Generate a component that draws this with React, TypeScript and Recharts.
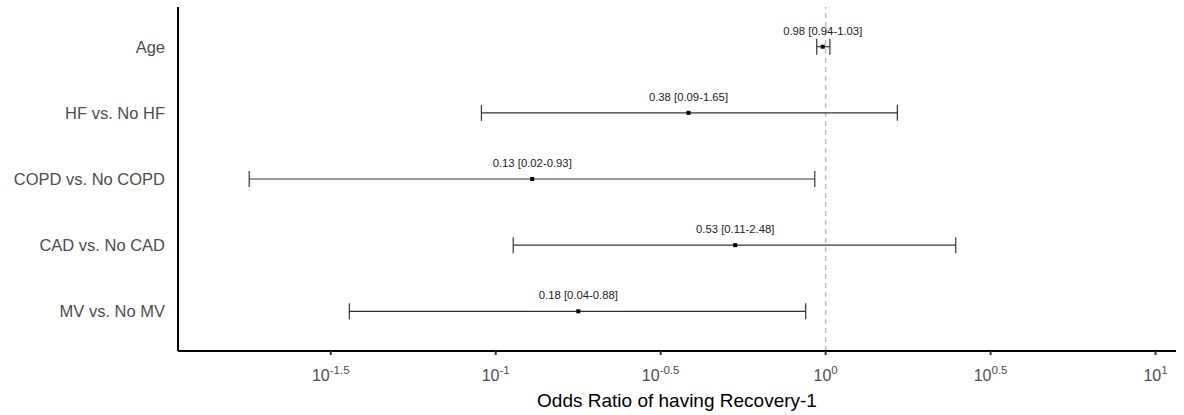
import React from 'react'
import {
  ScatterChart,
  Scatter,
  XAxis,
  YAxis,
  ErrorBar,
  ReferenceLine,
} from 'recharts'

const categories = ['Age', 'HF vs. No HF', 'COPD vs. No COPD', 'CAD vs. No CAD', 'MV vs. No MV']
const oddsRatio = [0.98, 0.38, 0.13, 0.53, 0.18]
const lowerCI = [0.94, 0.09, 0.02, 0.11, 0.04]
const upperCI = [1.03, 1.65, 0.93, 2.48, 0.88]
// the drawn points sit a touch off the rounded labels
const plotOR = [0.98, 0.384, 0.129, 0.532, 0.178]
const plotLower = [0.94, 0.0905, 0.0179, 0.113, 0.036]
const plotUpper = [1.03, 1.65, 0.927, 2.48, 0.87]
const tickExponents = [-1.5, -1, -0.5, 0, 0.5, 1]

const FONT = '"Liberation Sans", Arial, Helvetica, sans-serif'

const data = categories.map((name, i) => ({
  name,
  row: i + 1,
  or: plotOR[i],
  err: [plotOR[i] - plotLower[i], plotUpper[i] - plotOR[i]],
  label: `${oddsRatio[i].toFixed(2)} [${lowerCI[i].toFixed(2)}-${upperCI[i].toFixed(2)}]`,
}))

const PowerTick = (props: any) => {
  const { x, y, payload } = props
  const exp = Math.round(Math.log10(payload.value) * 10) / 10
  return (
    <text x={x} y={y + 24} textAnchor="middle" fill="#4d4d4d" fontFamily={FONT} fontSize={16}>
      <tspan>10</tspan>
      <tspan dy={-7} fontSize={11.5}>{String(exp)}</tspan>
    </text>
  )
}

const PointShape = (props: any) => {
  const { cx, cy, payload } = props
  return (
    <g>
      <rect x={cx - 2} y={cy - 2} width={4} height={4} fill="#000" />
      <text
        x={cx}
        y={cy - 12}
        textAnchor="middle"
        fill="#1a1a1a"
        fontFamily={FONT}
        fontSize={11.3}
      >
        {payload.label}
      </text>
    </g>
  )
}

export default function App() {
  return (
    <div style={{ position: 'absolute', left: 0, top: 0, background: '#fff' }}>
      <ScatterChart
        width={1184}
        height={415}
        margin={{ top: 7, right: 8, bottom: 0, left: 0 }}
      >
        <XAxis
          type="number"
          dataKey="or"
          scale="log"
          domain={[10 ** -1.963, 10 ** 1.062]}
          allowDataOverflow
          ticks={tickExponents.map((e) => 10 ** e)}
          tick={<PowerTick />}
          tickSize={4}
          tickLine={{ stroke: '#333', strokeWidth: 2 }}
          axisLine={{ stroke: '#000', strokeWidth: 2 }}
          height={64}
          label={{
            value: 'Odds Ratio of having Recovery-1',
            position: 'insideBottom',
            offset: 8,
            fill: '#000',
            fontSize: 19,
            fontFamily: FONT,
          }}
        />
        <YAxis
          type="number"
          dataKey="row"
          domain={[0.4, 5.6]}
          allowDataOverflow
          reversed
          ticks={[1, 2, 3, 4, 5]}
          tickFormatter={(v: number) => categories[v - 1] ?? ''}
          tickLine={false}
          tickSize={0}
          tickMargin={13}
          tick={{ fill: '#4d4d4d', fontSize: 16.5, fontFamily: FONT }}
          axisLine={{ stroke: '#000', strokeWidth: 2 }}
          width={178}
        />
        <ReferenceLine x={1} stroke="#bdbdbd" strokeWidth={1.5} strokeDasharray="5 4" />
        <Scatter data={data} shape={<PointShape />} isAnimationActive={false}>
          <ErrorBar
            dataKey="err"
            direction="x"
            width={8}
            stroke="#333"
            strokeWidth={1.2}
            isAnimationActive={false}
          />
        </Scatter>
      </ScatterChart>
    </div>
  )
}
